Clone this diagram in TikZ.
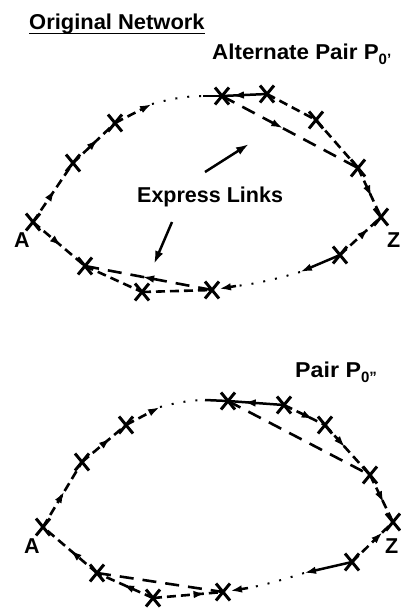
\documentclass[tikz,border=0pt]{standalone}
\usepackage{fontspec}
\setmainfont{Liberation Sans}
\usetikzlibrary{arrows.meta,decorations.markings,shapes.misc}

\begin{document}
\begin{tikzpicture}[x=1pt,y=-1pt,
  station/.style={cross out,draw,line width=3pt,minimum width=14pt,minimum height=17pt,inner sep=0pt,outer sep=0pt},
  link/.style={line width=2.6pt,dash pattern=on 9pt off 5pt},
  express/.style={line width=2.6pt,dash pattern=on 14pt off 9pt},
  dots/.style={line width=2pt,dash pattern=on 2pt off 10pt},
  solidlink/.style={line width=2.5pt},
  tip/.style={-{Latex[length=12pt,width=7.5pt]}},
  midarrow/.style={postaction={decorate},decoration={markings,mark=at position #1 with {\arrow[solid]{Latex[length=12pt,width=7.5pt]}}}},
  pointer/.style={line width=2.5pt,-{Latex[length=13pt,width=8.5pt]}},
  lbl/.style={inner sep=0pt,anchor=base west,font=\fontsize{21.5}{21.5}\selectfont\bfseries},
]
\useasboundingbox (0,0) rectangle (400,611);

% ---------- headings ----------
\node[lbl] (title) at (29,29) {\scalebox{1.02}[1]{Original Network}};
\draw[line width=1.6pt] (29,33.5) -- (205,33.5);
\node[lbl] (alt) at (212,59) {\scalebox{1.04}[1]{Alternate Pair P}\raisebox{-5pt}{\fontsize{15}{15}\selectfont 0'}};
\node[lbl] (express) at (137,202) {Express Links};
\node[lbl] (pair) at (295,377) {\scalebox{1.08}[1]{Pair P}\raisebox{-5pt}{\fontsize{15}{15}\selectfont 0"}};

% ---------- upper network ----------
\node[station] (tA) at (33,222) {};
\node[station] (t1) at (73,163) {};
\node[station] (t2) at (115,123) {};
\node[station] (t3) at (222,96) {};
\node[station] (t4) at (267,94) {};
\node[station] (t5) at (316,120) {};
\node[station] (t6) at (358,168) {};
\node[station] (tZ) at (381,217) {};
\node[station] (t7) at (340,255) {};
\node[station] (t8) at (212,290) {};
\node[station] (t9) at (142,292) {};
\node[station] (t10) at (85,266) {};
\node[lbl] (tAl) at (14,247) {A};
\node[lbl] (tZl) at (387,247) {Z};

\coordinate (ta) at (152,104);
\coordinate (tb) at (203,96);
\coordinate (tc) at (300,272);
\coordinate (td) at (236,286);

\draw[link,midarrow=0.55] (tA.center) -- (t1.center);
\draw[link,midarrow=0.6] (t1.center) -- (t2.center);
\draw[link,tip] (t2.center) -- (ta);
\draw[dots] (ta) .. controls (170,99) and (186,96) .. (tb);
\draw[solidlink] (tb) -- (t3.center);
\draw[solidlink,midarrow=0.78] (t4.center) -- (t3.center);
\draw[link] (t4.center) -- (t5.center);
\draw[express,midarrow=0.45] (t3.center) -- (t6.center);
\draw[link] (t5.center) -- (t6.center);
\draw[link,midarrow=0.6] (t6.center) -- (tZ.center);
\draw[link,midarrow=0.7] (t7.center) -- (tZ.center);
\draw[solidlink,tip] (t7.center) -- (tc);
\draw[dots] (tc) .. controls (280,278) and (256,284) .. (td);
\draw[solidlink,tip] (td) -- (t8);
\draw[link] (t9.center) -- (t8.center);
\draw[link] (t10.center) -- (t9.center);
\draw[express,midarrow=0.55] (t8.center) -- (t10.center);
\draw[link,midarrow=0.55] (tA.center) -- (t10.center);

% pointers to the express links
\coordinate (p1s) at (205,172);
\coordinate (p1t) at (249,144);
\coordinate (p2s) at (172,222);
\coordinate (p2t) at (154,264);
\draw[pointer] (p1s) -- (p1t);
\draw[pointer] (p2s) -- (p2t);

% ---------- lower network ----------
\node[station] (bA) at (43,527) {};
\node[station] (b1) at (82,462) {};
\node[station] (b2) at (126,425) {};
\node[station] (b3) at (228,401) {};
\node[station] (b4) at (284,405) {};
\node[station] (b5) at (325,425) {};
\node[station] (b6) at (370,475) {};
\node[station] (bZ) at (393,522) {};
\node[station] (b7) at (352,562) {};
\node[station] (b8) at (223,592) {};
\node[station] (b9) at (153,598) {};
\node[station] (b10) at (97,573) {};
\node[lbl] (bAl) at (24,553) {A};
\node[lbl] (bZl) at (385,553) {Z};

\coordinate (ba) at (160,407);
\coordinate (bb) at (205,400);
\coordinate (bc) at (304,573);
\coordinate (bd) at (248,588);

\draw[link,midarrow=0.55] (bA.center) -- (b1.center);
\draw[link,midarrow=0.65] (b1.center) -- (b2.center);
\draw[link,tip] (b2.center) -- (ba);
\draw[dots] (ba) .. controls (175,403) and (190,400) .. (bb);
\draw[solidlink] (bb) -- (b3.center);
\draw[solidlink,midarrow=0.72] (b4.center) -- (b3.center);
\draw[link,midarrow=0.72] (b4.center) -- (b5.center);
\draw[link,midarrow=0.45] (b5.center) -- (b6.center);
\draw[express] (b3.center) -- (b6.center);
\draw[link,midarrow=0.6] (b6.center) -- (bZ.center);
\draw[link,midarrow=0.75] (b7.center) -- (bZ.center);
\draw[solidlink,tip] (b7.center) -- (bc);
\draw[dots] (bc) .. controls (285,579) and (265,585) .. (bd);
\draw[solidlink,tip] (bd) -- (b8);
\draw[link,midarrow=0.75] (b9.center) -- (b8.center);
\draw[link,midarrow=0.55] (b9.center) -- (b10.center);
\draw[express] (b10.center) -- (b8.center);
\draw[link,midarrow=0.5] (b10.center) -- (bA.center);
\end{tikzpicture}
\end{document}
